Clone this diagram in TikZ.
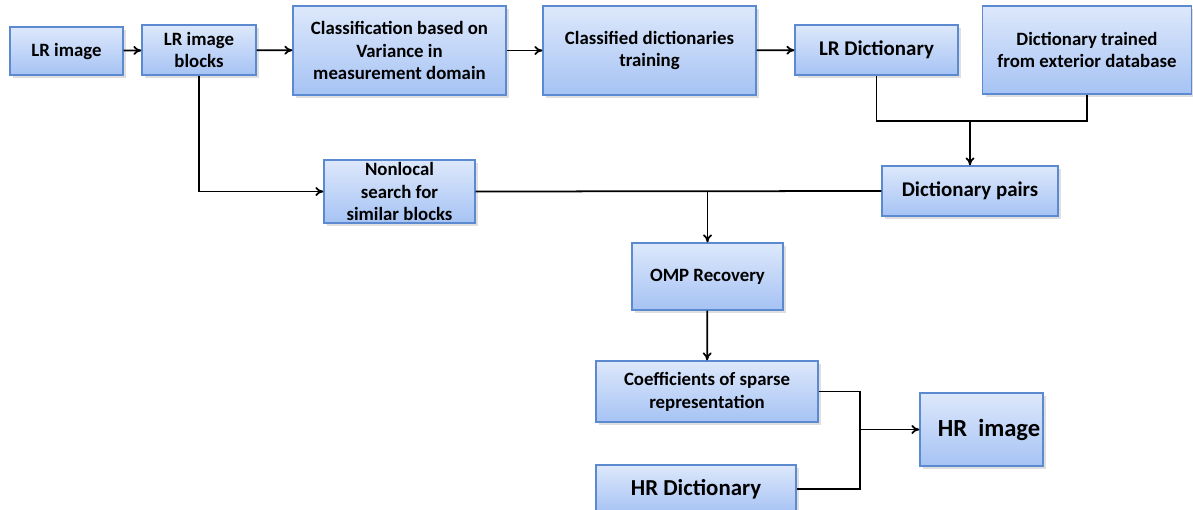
\documentclass[tikz,border=0pt]{standalone}
\usepackage{fontspec}
\setmainfont{Carlito}
\usepackage{xcolor}
\usetikzlibrary{arrows.meta, shadows}

\definecolor{boxtop}{HTML}{DDE8FB}
\definecolor{boxbot}{HTML}{A6C3F4}
\definecolor{boxedge}{HTML}{5B8AD0}

\begin{document}
\begin{tikzpicture}[
  x=0.2mm, y=-0.2mm,
  box/.style={draw=boxedge, line width=0.7pt, top color=boxtop, bottom color=boxbot,
    align=center, inner sep=1pt, font=\bfseries\fontsize{10.7}{13}\selectfont,
    drop shadow={opacity=0.25, shadow xshift=0.6mm, shadow yshift=-0.6mm}},
  bigbox/.style={box, font=\bfseries\fontsize{13}{15}\selectfont},
  arr/.style={-{To[length=1.6mm, width=1.8mm]}, line width=1pt},
  line/.style={line width=1pt}
]
  \useasboundingbox (0,0) rectangle (1193,510);

  \node[box, minimum width=2.26cm, minimum height=0.96cm] (lrimg) at (66.5,51) {LR image};
  \node[box, minimum width=2.28cm, minimum height=1.0cm] (blocks) at (199,50) {LR image\\blocks};
  \node[box, minimum width=4.26cm, minimum height=1.78cm] (classify) at (399.5,50.5) {Classification based on\\Variance in\\measurement domain};
  \node[box, minimum width=4.26cm, minimum height=1.78cm] (train) at (649.5,50.5) {Classified dictionaries\\training};
  \node[box, minimum width=3.26cm, minimum height=1.0cm] (lrdict) at (876.5,50) {\fontsize{11.9}{13}\selectfont LR Dictionary};
  \node[box, minimum width=4.18cm, minimum height=1.76cm] (extdict) at (1087,50) {Dictionary trained\\from exterior database};
  \node[box, minimum width=3.52cm, minimum height=1.0cm] (pairs) at (970,191) {\fontsize{11.9}{13}\selectfont Dictionary pairs};
  \node[box, minimum width=3.02cm, minimum height=1.26cm] (search) at (399.5,191.5) {Nonlocal\\search for\\similar blocks};
  \node[box, minimum width=3.02cm, minimum height=1.34cm] (omp) at (707.5,276.5) {OMP Recovery};
  \node[box, minimum width=4.44cm, minimum height=1.22cm] (coef) at (707,391.5) {Coefficients of sparse\\representation};
  \node[bigbox, minimum width=4.0cm, minimum height=0.96cm] (hrdict) at (696,489) {HR Dictionary};
  \node[bigbox, minimum width=2.46cm, minimum height=1.46cm, font=\bfseries\fontsize{14}{16}\selectfont] (hrimg) at (981.5,429.5) {\hspace{0.3cm}HR~~image};

  \coordinate (join1) at (970,121);
  \coordinate (join2) at (omp.north |- pairs.west);
  \coordinate (join3) at (860,429.5);

  \draw[arr] (lrimg) -- (blocks);
  \draw[arr] (blocks) -- (classify);
  \draw[arr] (classify) -- (train);
  \draw[arr] (train) -- (lrdict);
  \draw[arr] (blocks.south) |- (search.west);
  \draw[line] (lrdict.south) |- (join1) -| (extdict.south);
  \draw[arr] (join1) -- (pairs.north);
  \draw[line] (search.east) -- (pairs.west);
  \draw[arr] (join2) -- (omp.north);
  \draw[arr] (omp) -- (coef);
  \draw[line] (coef.east) -| (join3) |- (hrdict.east);
  \draw[arr] (join3) -- (hrimg.west);
\end{tikzpicture}
\end{document}
